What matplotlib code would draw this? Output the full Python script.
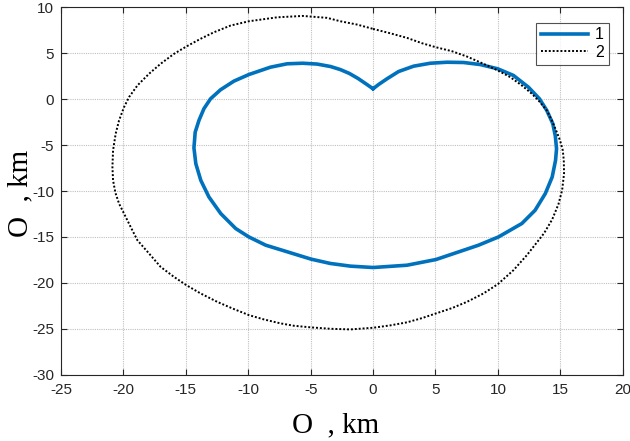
import matplotlib
matplotlib.use("Agg")
import matplotlib.pyplot as plt

plt.rcParams["axes.unicode_minus"] = False

# Curve 1 (solid blue)
x1 = [0.0, 0.45, 1.12, 2.05, 3.25, 4.58, 5.92, 7.25, 8.58, 10.0, 11.25, 12.45, 13.33,
      13.92, 14.4, 14.6, 14.7, 14.62, 14.35, 13.8, 12.98, 11.92, 10.05, 8.45, 7.25,
      5.04, 2.72, 0.0, -1.82, -3.42, -4.96, -7.28, -8.6, -9.95, -11.0, -12.2, -13.15,
      -13.8, -14.2, -14.35, -14.25, -13.95, -13.55, -13.02, -12.22, -11.15, -9.95,
      -8.22, -6.88, -5.63, -4.48, -3.4, -2.62, -1.9, -1.2, -0.55, 0.0]
y1 = [1.13, 1.6, 2.22, 3.01, 3.59, 3.91, 4.02, 3.99, 3.77, 3.3, 2.58, 1.3, 0.04,
      -1.23, -2.67, -4.0, -5.4, -6.66, -8.48, -10.28, -12.1, -13.54, -15.0, -15.9,
      -16.45, -17.46, -18.08, -18.33, -18.18, -17.89, -17.42, -16.45, -15.9, -15.0,
      -14.09, -12.46, -10.65, -8.84, -7.02, -5.3, -3.6, -2.32, -1.04, 0.04, 1.02, 1.96,
      2.68, 3.48, 3.85, 3.91, 3.82, 3.55, 3.22, 2.8, 2.25, 1.65, 1.13]

# Curve 2 (dotted black)
x2 = [0.0, 1.38, 2.72, 3.92, 5.04, 6.32, 7.52, 8.85, 10.0, 11.0, 11.92, 12.72, 13.38,
      13.92, 14.32, 14.72, 14.98, 15.2, 15.28, 15.3, 15.15, 14.85, 14.35, 13.7, 12.95,
      12.32, 11.25, 10.0, 8.85, 7.52, 6.32, 5.04, 3.92, 2.72, 1.38, 0.0,
      -1.82, -3.42, -4.96, -6.35, -7.42, -8.75, -9.95, -11.28, -12.48, -13.82, -14.96,
      -15.95, -17.02, -17.95, -18.88, -19.42, -19.95, -20.35, -20.64, -20.83, -20.88,
      -20.83, -20.62, -20.35, -19.95, -19.55, -18.88, -17.95, -17.02, -15.95, -14.96,
      -13.82, -12.75, -11.42, -9.95, -7.68, -5.63, -3.68, -2.62, -1.28, 0.0]
y2 = [7.65, 7.17, 6.67, 6.09, 5.65, 5.22, 4.64, 3.85, 3.12, 2.39, 1.49, 0.59, -0.33,
      -1.23, -2.32, -3.59, -4.49, -5.58, -6.66, -8.11, -9.9, -11.45, -13.1, -14.6,
      -15.9, -16.99, -18.62, -20.14, -21.15, -22.07, -22.75, -23.33,
      -23.84, -24.3, -24.63, -24.89, -25.07, -25.0, -24.85, -24.67, -24.41, -23.98,
      -23.51, -22.78, -22.07, -21.15, -20.25, -19.35, -18.26, -16.8, -15.36, -13.91,
      -12.46, -11.37, -10.2, -8.84, -7.39, -5.58, -3.76, -2.32, -0.87, 0.22, 1.49, 2.76,
      3.85, 4.93, 5.73, 6.57, 7.28, 8.01, 8.48, 8.91, 9.06, 8.85, 8.48, 8.12, 7.65]

labels = ["1", "2"]
xticks = [-25, -20, -15, -10, -5, 0, 5, 10, 15, 20]
yticks = [-30, -25, -20, -15, -10, -5, 0, 5, 10]

fig = plt.figure(figsize=(6.3, 4.41), dpi=100)
ax = fig.add_axes([61/630, 1-374.7/441, (622.7-61)/630, (374.7-7.3)/441])

ax.plot(x1, y1, color="#0072BD", lw=2.6, label=labels[0], zorder=3,
        solid_joinstyle="round")
ax.plot(x2, y2, color="black", lw=1.4, linestyle=(0, (1, 1)), label=labels[1], zorder=3)

ax.set_xlim(-25, 20)
ax.set_ylim(-30, 10)
ax.set_xticks(xticks)
ax.set_yticks(yticks)
ax.grid(True, color="#c0c0c0", linestyle=(0, (1, 1)), lw=0.8)
ax.set_axisbelow(True)

tc = "#262626"
ax.tick_params(direction="in", top=True, right=True, length=4, width=0.8, colors=tc,
               labelsize=11)
ax.tick_params(axis="x", pad=6)
ax.tick_params(axis="y", pad=5)
for lab in ax.get_xticklabels() + ax.get_yticklabels():
    lab.set_fontfamily("Liberation Sans")
for s in ax.spines.values():
    s.set_color(tc)
    s.set_linewidth(0.8)

leg = ax.legend(loc="upper right", prop={"family": "Liberation Sans", "size": 11.5},
                frameon=True, fancybox=False, handlelength=3.0, handletextpad=0.4,
                borderpad=0.3, labelspacing=0.15, borderaxespad=0)
leg.set_bbox_to_anchor((608.5/630, 1-22.7/441), transform=fig.transFigure)
leg.get_frame().set_edgecolor(tc)
leg.get_frame().set_linewidth(0.8)

fig.text(335.8/630, 1-432/441, "O  , km", family="Liberation Serif", fontsize=21,
         ha="center", va="baseline")
fig.text(20/630, 1-193.5/441, "O  , km", family="Liberation Serif", fontsize=21,
         ha="center", va="center", rotation=90)

fig.savefig("out.png", dpi=100)
